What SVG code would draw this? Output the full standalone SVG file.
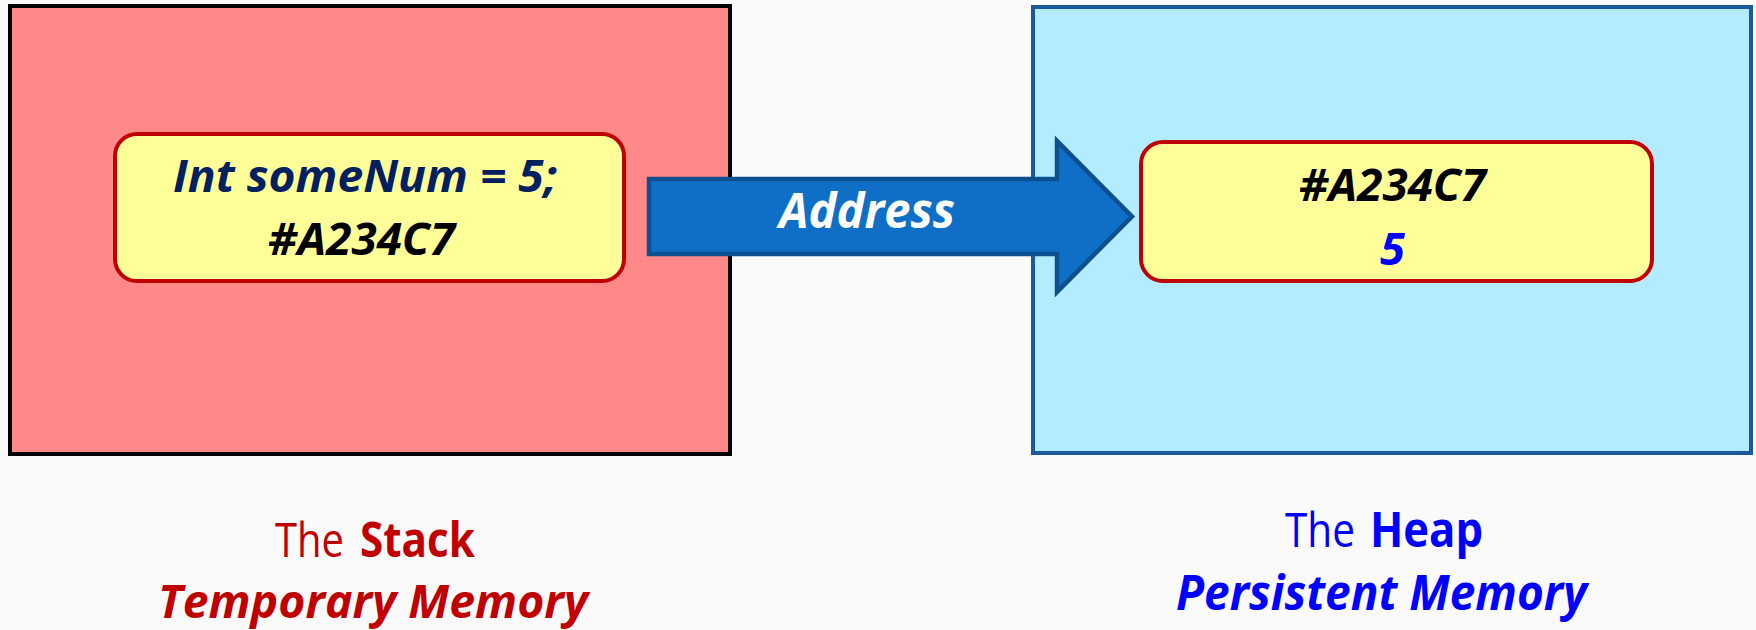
<svg xmlns="http://www.w3.org/2000/svg" width="1756" height="630" viewBox="0 0 1756 630">
  <style>
    .t { font-family: "Open Sans", "Noto Sans", "Liberation Sans", sans-serif; }
    .bi { font-weight: bold; font-style: italic; }
    .inner { font-size: 45px; text-anchor: start; }
    .lbl { font-size: 48px; }
    .sub { font-size: 46px; }
    .ybox { fill: #FFFF99; stroke: #C00000; stroke-width: 4; }
  </style>
  <rect x="0" y="0" width="1756" height="630" fill="#FAFAFA"/>

  <g id="stack">
    <rect x="10" y="6" width="720" height="448" fill="#FF8989" stroke="#000000" stroke-width="4"/>
  </g>

  <g id="heap">
    <rect x="1033" y="7" width="718" height="446" fill="#B4ECFF" stroke="#1A5A9A" stroke-width="4"/>
  </g>

  <g id="stack-var">
    <rect class="ybox" x="115" y="134" width="509" height="147" rx="22"/>
    <text class="t bi inner" x="173" y="192" textLength="384" lengthAdjust="spacingAndGlyphs" fill="#002060">Int someNum = 5;</text>
    <text class="t bi inner" x="268" y="255" textLength="187" lengthAdjust="spacingAndGlyphs" fill="#000000">#A234C7</text>
  </g>

  <g id="heap-value">
    <rect class="ybox" x="1141" y="142" width="511" height="139" rx="22"/>
    <text class="t bi inner" x="1299" y="201" textLength="187" lengthAdjust="spacingAndGlyphs" fill="#000000">#A234C7</text>
    <text class="t bi inner" x="1380" y="265" textLength="25" lengthAdjust="spacingAndGlyphs" fill="#0000FF">5</text>
  </g>

  <g id="connectors">
    <path d="M649,179 H1057 V141 L1132,216.5 L1057,292 V254 H649 Z" fill="#0F6FC6" stroke="#0E4F8F" stroke-width="4.5" stroke-linejoin="miter"/>
    <text class="t bi lbl" x="779" y="228" textLength="176" lengthAdjust="spacingAndGlyphs" fill="#FFFFFF">Address</text>
  </g>

  <g id="stack-label">
    <text class="t lbl" y="557" fill="#C00000"><tspan x="275" textLength="69" lengthAdjust="spacingAndGlyphs">The</tspan><tspan x="360" font-weight="bold" textLength="115" lengthAdjust="spacingAndGlyphs">Stack</tspan></text>
    <text class="t bi sub" x="158" y="618" textLength="430" lengthAdjust="spacingAndGlyphs" fill="#C00000">Temporary Memory</text>
  </g>

  <g id="heap-label">
    <text class="t lbl" y="547" fill="#0000FF"><tspan x="1285" textLength="70" lengthAdjust="spacingAndGlyphs">The</tspan><tspan x="1370" font-weight="bold" textLength="113" lengthAdjust="spacingAndGlyphs">Heap</tspan></text>
    <text class="t bi lbl" x="1176" y="610" textLength="411" lengthAdjust="spacingAndGlyphs" fill="#0000FF">Persistent Memory</text>
  </g>
</svg>
